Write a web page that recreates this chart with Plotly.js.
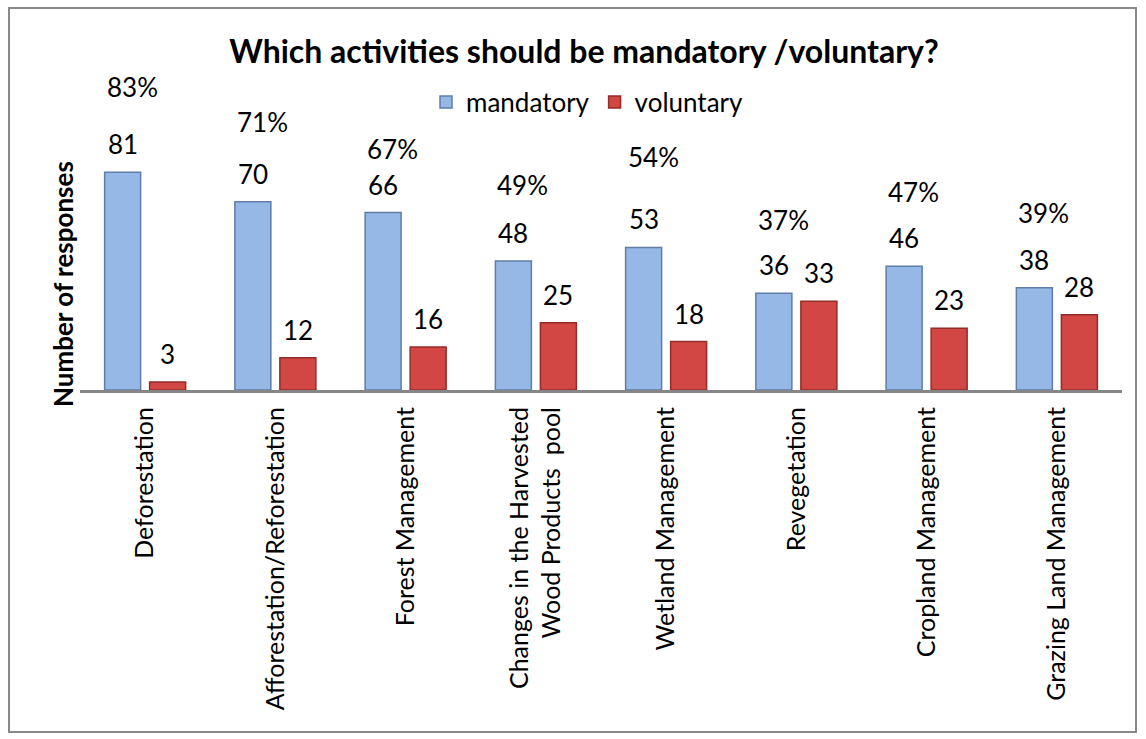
<!DOCTYPE html>
<html>
<head>
<meta charset="utf-8">
<script src="https://cdn.plot.ly/plotly-3.0.1.min.js"></script>
<style>
html,body{margin:0;padding:0;background:#fff;}
#wrap{position:relative;width:1146px;height:739px;}
#chart{position:absolute;left:0;top:0;width:1146px;height:739px;}
#frame{position:absolute;left:8px;top:7px;width:1129px;height:726px;border:2px solid #898989;box-sizing:border-box;pointer-events:none;}
</style>
</head>
<body>
<div id="wrap"><div id="chart"></div><div id="frame"></div></div>
<script>
// ---- data ----
const categories = ["Deforestation","Afforestation/Reforestation","Forest Management","Changes in the Harvested Wood Products pool","Wetland Management","Revegetation","Cropland Management","Grazing Land Management"];
const tickLabels = ["Deforestation","Afforestation/Reforestation","Forest Management","Changes in the Harvested<br>Wood Products  pool","Wetland Management","Revegetation","Cropland Management","Grazing Land Management"];
const mandatory = [81,70,66,48,53,36,46,38];
const voluntary = [3,12,16,25,18,33,23,28];
const mandatoryPct = ["83%","71%","67%","49%","54%","37%","47%","39%"];

// ---- placement (px, not data) ----
const pctLift = [85,80,64,76,90,73,74,75];

const FONT = "Lato, 'Open Sans', sans-serif";
const ML = 80, MR = 24, MT = 148, MB = 349;
const plotW = 1146 - ML - MR;
const plotH = 739 - MT - MB;
const bargap = 0.309, bargroupgap = 0.2;
const catW = plotW / categories.length;
const slot = catW * (1 - bargap) / 2;
const off = slot / 2;

const traces = [
  {type:'bar', name:'mandatory', x:categories, y:mandatory,
   marker:{color:'#95B8E6', line:{color:'#5F7EA8', width:1.5}}, hoverinfo:'y'},
  {type:'bar', name:'voluntary', x:categories, y:voluntary,
   marker:{color:'#D24643', line:{color:'#922D2A', width:1.5}}, hoverinfo:'y'}
];

const annotations = [];
categories.forEach((c,i)=>{
  annotations.push({x:c, y:mandatory[i], xref:'x', yref:'y', text:String(mandatory[i]), showarrow:false,
    xshift:-off, yshift:28, yanchor:'middle', font:{family:FONT, size:26, color:'#000'}});
  annotations.push({x:c, y:voluntary[i], xref:'x', yref:'y', text:String(voluntary[i]), showarrow:false,
    xshift:off, yshift:28, yanchor:'middle', font:{family:FONT, size:26, color:'#000'}});
  annotations.push({x:c, y:mandatory[i], xref:'x', yref:'y', text:mandatoryPct[i], showarrow:false,
    xshift:-13, yshift:pctLift[i], yanchor:'middle', font:{family:FONT, size:26, color:'#000'}});
});
annotations.push({xref:'paper', yref:'paper', x:(63-ML)/plotW, y:(390-284)/plotH, text:'<b>Number of responses</b>',
  textangle:-90, showarrow:false, xanchor:'center', yanchor:'middle', font:{family:FONT, size:26, color:'#000'}});

const layout = {
  width:1146, height:739,
  margin:{l:ML, r:MR, t:MT, b:MB},
  paper_bgcolor:'#fff', plot_bgcolor:'#fff',
  title:{text:'<b>Which activities should be mandatory /voluntary?</b>', xref:'container', x:584/1146, y:1-52/739,
    xanchor:'center', yanchor:'middle', font:{family:FONT, size:32, color:'#000'}},
  barmode:'group', bargap:bargap, bargroupgap:bargroupgap,
  showlegend:true,
  legend:{orientation:'h', x:(426-ML)/plotW, xanchor:'left', y:(390-102)/plotH, yanchor:'middle',
    font:{family:FONT, size:26, color:'#000'}, bgcolor:'rgba(0,0,0,0)'},
  xaxis:{tickvals:categories, ticktext:tickLabels, tickangle:-90, showline:true, linecolor:'#868686', linewidth:3,
    ticks:'', showgrid:false, zeroline:false, ticklabelstandoff:4,
    tickfont:{family:FONT, size:25, color:'#000'}},
  yaxis:{range:[0,90], showticklabels:false, showgrid:false, zeroline:false, showline:false, ticks:''},
  annotations:annotations
};

Plotly.newPlot('chart', traces, layout, {displayModeBar:false, staticPlot:true});
</script>
</body>
</html>
